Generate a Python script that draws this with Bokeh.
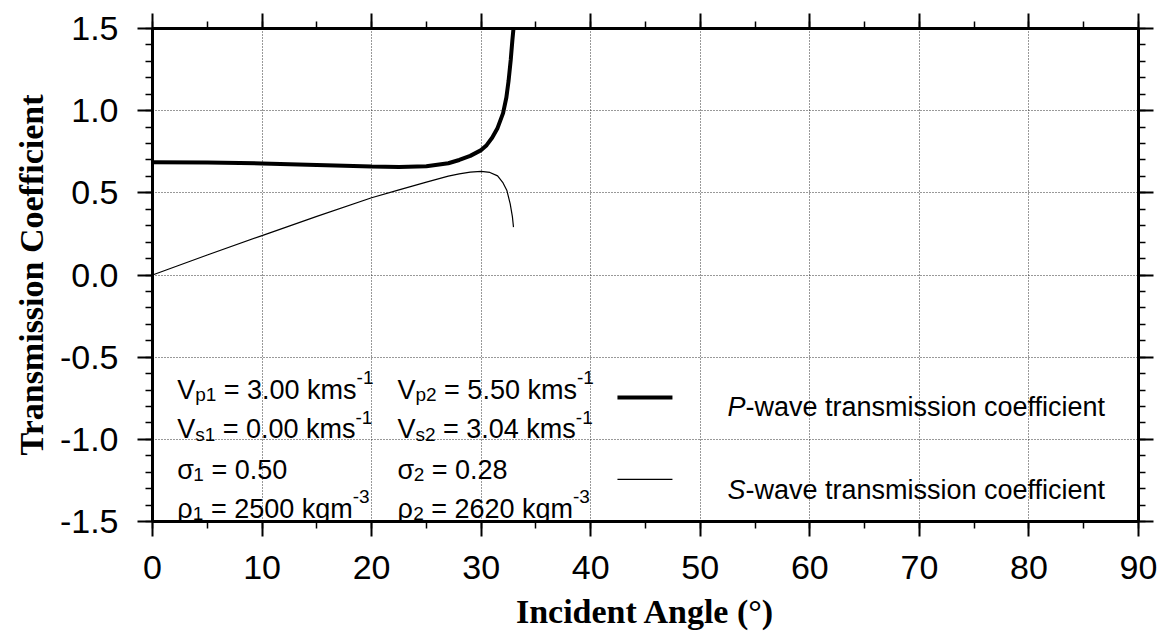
from bokeh.plotting import figure
from bokeh.models import LinearAxis, Range1d, FixedTicker, PrintfTickFormatter, ColumnDataSource
from bokeh.core.properties import value
from bokeh.embed import file_html
from bokeh.resources import INLINE

# ---- data ----
angle_p = [0, 5, 10, 15, 20, 22.5, 25, 27, 28, 29, 30, 30.5, 31, 31.5, 32, 32.3, 32.5, 32.7, 32.85, 32.95]
coef_p = [0.686, 0.684, 0.679, 0.670, 0.660, 0.657, 0.662, 0.680, 0.700, 0.725, 0.760, 0.790, 0.835,
          0.895, 0.985, 1.08, 1.18, 1.31, 1.43, 1.50]
angle_s = [0, 5, 10, 15, 20, 22.5, 25, 27, 28, 29, 30, 30.8, 31.5, 32, 32.35, 32.65, 32.85, 32.95]
coef_s = [0.0, 0.122, 0.240, 0.357, 0.470, 0.518, 0.565, 0.602, 0.615, 0.626, 0.630, 0.624, 0.603,
          0.560, 0.514, 0.433, 0.355, 0.291]

x_ticks = [0, 10, 20, 30, 40, 50, 60, 70, 80, 90]
x_minor = [0, 5, 10, 15, 20, 25, 30, 35, 40, 45, 50, 55, 60, 65, 70, 75, 80, 85, 90]
y_ticks = [-1.5, -1.0, -0.5, 0.0, 0.5, 1.0, 1.5]
y_minor = [round(-1.5 + 0.1 * i, 1) for i in range(31)]

vp = [3.00, 5.50]
vs = [0.00, 3.04]
sigma = [0.50, 0.28]
rho = [2500, 2620]

x_label = "Incident Angle (\u00b0)"
y_label = "Transmission Coefficient"
legend_names = ["P", "S"]
legend_tail = "-wave transmission coefficient"

# ---- figure ----
p = figure(width=1161, height=632, x_range=Range1d(0, 90), y_range=Range1d(-1.5, 1.5),
           output_backend="svg", toolbar_location=None,
           min_border_left=152, min_border_right=23, min_border_top=28, min_border_bottom=111)
p.background_fill_color = "white"
p.border_fill_color = "white"
p.outline_line_color = "black"
p.outline_line_width = 3

xt = FixedTicker(ticks=x_ticks, minor_ticks=x_minor)
yt = FixedTicker(ticks=y_ticks, minor_ticks=y_minor)

def style_axis(ax, labels=True):
    ax.axis_line_width = 3
    ax.axis_line_color = "black"
    ax.major_tick_out = 15
    ax.major_tick_in = 0
    ax.minor_tick_out = 7
    ax.minor_tick_in = 0
    ax.major_tick_line_width = 2
    ax.minor_tick_line_width = 1.5
    ax.major_tick_line_color = "black"
    ax.minor_tick_line_color = "black"
    if labels:
        ax.major_label_text_font = "Liberation Sans"
        ax.major_label_text_font_size = "34px"
        ax.major_label_text_color = "black"
        ax.axis_label_text_font = "Liberation Serif"
        ax.axis_label_text_font_style = "bold"
        ax.axis_label_text_font_size = "34px"
        ax.axis_label_text_color = "black"
    else:
        ax.major_label_text_color = None
        ax.major_label_text_font_size = "1px"
        ax.major_label_standoff = 0

xa = p.xaxis[0]
xa.ticker = xt
xa.formatter = PrintfTickFormatter(format="%d")
xa.axis_label = x_label
style_axis(xa)
xa.major_label_standoff = 19
xa.axis_label_standoff = 11

ya = p.yaxis[0]
ya.ticker = yt
ya.formatter = PrintfTickFormatter(format="%.1f")
ya.axis_label = y_label
style_axis(ya)
ya.major_label_standoff = 19
ya.axis_label_standoff = 7

top = LinearAxis(ticker=FixedTicker(ticks=x_ticks, minor_ticks=x_minor))
style_axis(top, labels=False)
p.add_layout(top, "above")
right = LinearAxis(ticker=FixedTicker(ticks=y_ticks, minor_ticks=y_minor))
style_axis(right, labels=False)
p.add_layout(right, "right")

p.xgrid.ticker = FixedTicker(ticks=x_ticks)
p.ygrid.ticker = FixedTicker(ticks=y_ticks)
for g in (p.xgrid[0], p.ygrid[0]):
    g.grid_line_color = "#333333"
    g.grid_line_width = 1
    g.grid_line_dash = "1 2"

# ---- curves ----
p.line(angle_p, coef_p, line_color="black", line_width=4)
p.line(angle_s, coef_s, line_color="black", line_width=1.2)

# ---- rich text helper ----
FS_MAIN = 27
FS_SUB = 19
NB = "\u00a0"
WID = {' ': .278, NB: .278, '=': .584, '.': .278, '-': .333, 'k': .5, 'm': .833, 's': .5, 'g': .556,
       'V': .667, 'p': .556, 'P': .667, 'S': .667, '\u03c3': .60, '\u03c1': .58,
       'w': .722, 'a': .556, 'v': .5, 'e': .556, 't': .278, 'r': .333, 'n': .556, 'i': .222,
       'o': .556, 'c': .5, 'f': .278}
rows = {k: dict(x=[], y=[], text=[], xo=[], yo=[]) for k in ("n", "it", "sub", "sup")}

def seg_width(s, fs):
    return sum(WID.get(c, 0.556) for c in s) * fs

def rich(x, y, segs):
    cur = 0.0
    for txt, kind in segs:
        txt = txt.replace(" ", NB)
        fs = FS_SUB if kind in ("sub", "sup") else FS_MAIN
        yo = {"n": 0, "it": 0, "sub": 5, "sup": -12}[kind]
        d = rows[kind]
        d["x"].append(x); d["y"].append(y); d["text"].append(txt)
        d["xo"].append(cur); d["yo"].append(yo)
        cur += seg_width(txt, fs)

col_x = [2.25, 22.36]
row_y = [-0.697, -0.940, -1.184, -1.421]
for i in range(2):
    n = str(i + 1)
    rich(col_x[i], row_y[0], [("V", "n"), ("p" + n, "sub"), (" = %.2f kms" % vp[i], "n"), ("-1", "sup")])
    rich(col_x[i], row_y[1], [("V", "n"), ("s" + n, "sub"), (" = %.2f kms" % vs[i], "n"), ("-1", "sup")])
    rich(col_x[i], row_y[2], [("\u03c3", "n"), (n, "sub"), (" = %.2f" % sigma[i], "n")])
    rich(col_x[i], row_y[3], [("\u03c1", "n"), (n, "sub"), (" = %d kgm" % rho[i], "n"), ("-3", "sup")])

# legend
leg_x0, leg_x1, leg_tx = 42.44, 47.46, 52.48
leg_line_y = [-0.745, -1.244]
leg_text_y = [-0.806, -1.311]
leg_w = [4, 1.2]
for k in range(2):
    p.segment(x0=[leg_x0], y0=[leg_line_y[k]], x1=[leg_x1], y1=[leg_line_y[k]],
              line_color="black", line_width=leg_w[k])
    rich(leg_tx, leg_text_y[k], [(legend_names[k], "it"), (legend_tail, "n")])

for kind, d in rows.items():
    fs = FS_SUB if kind in ("sub", "sup") else FS_MAIN
    p.text(x="x", y="y", text="text", x_offset="xo", y_offset="yo", source=ColumnDataSource(d),
           text_font=value("Liberation Sans"), text_font_size="%dpx" % fs,
           text_font_style="italic" if kind == "it" else "normal",
           text_baseline="alphabetic", text_align="left", text_color="black")

open("out.html", "w").write(file_html(p, INLINE))
